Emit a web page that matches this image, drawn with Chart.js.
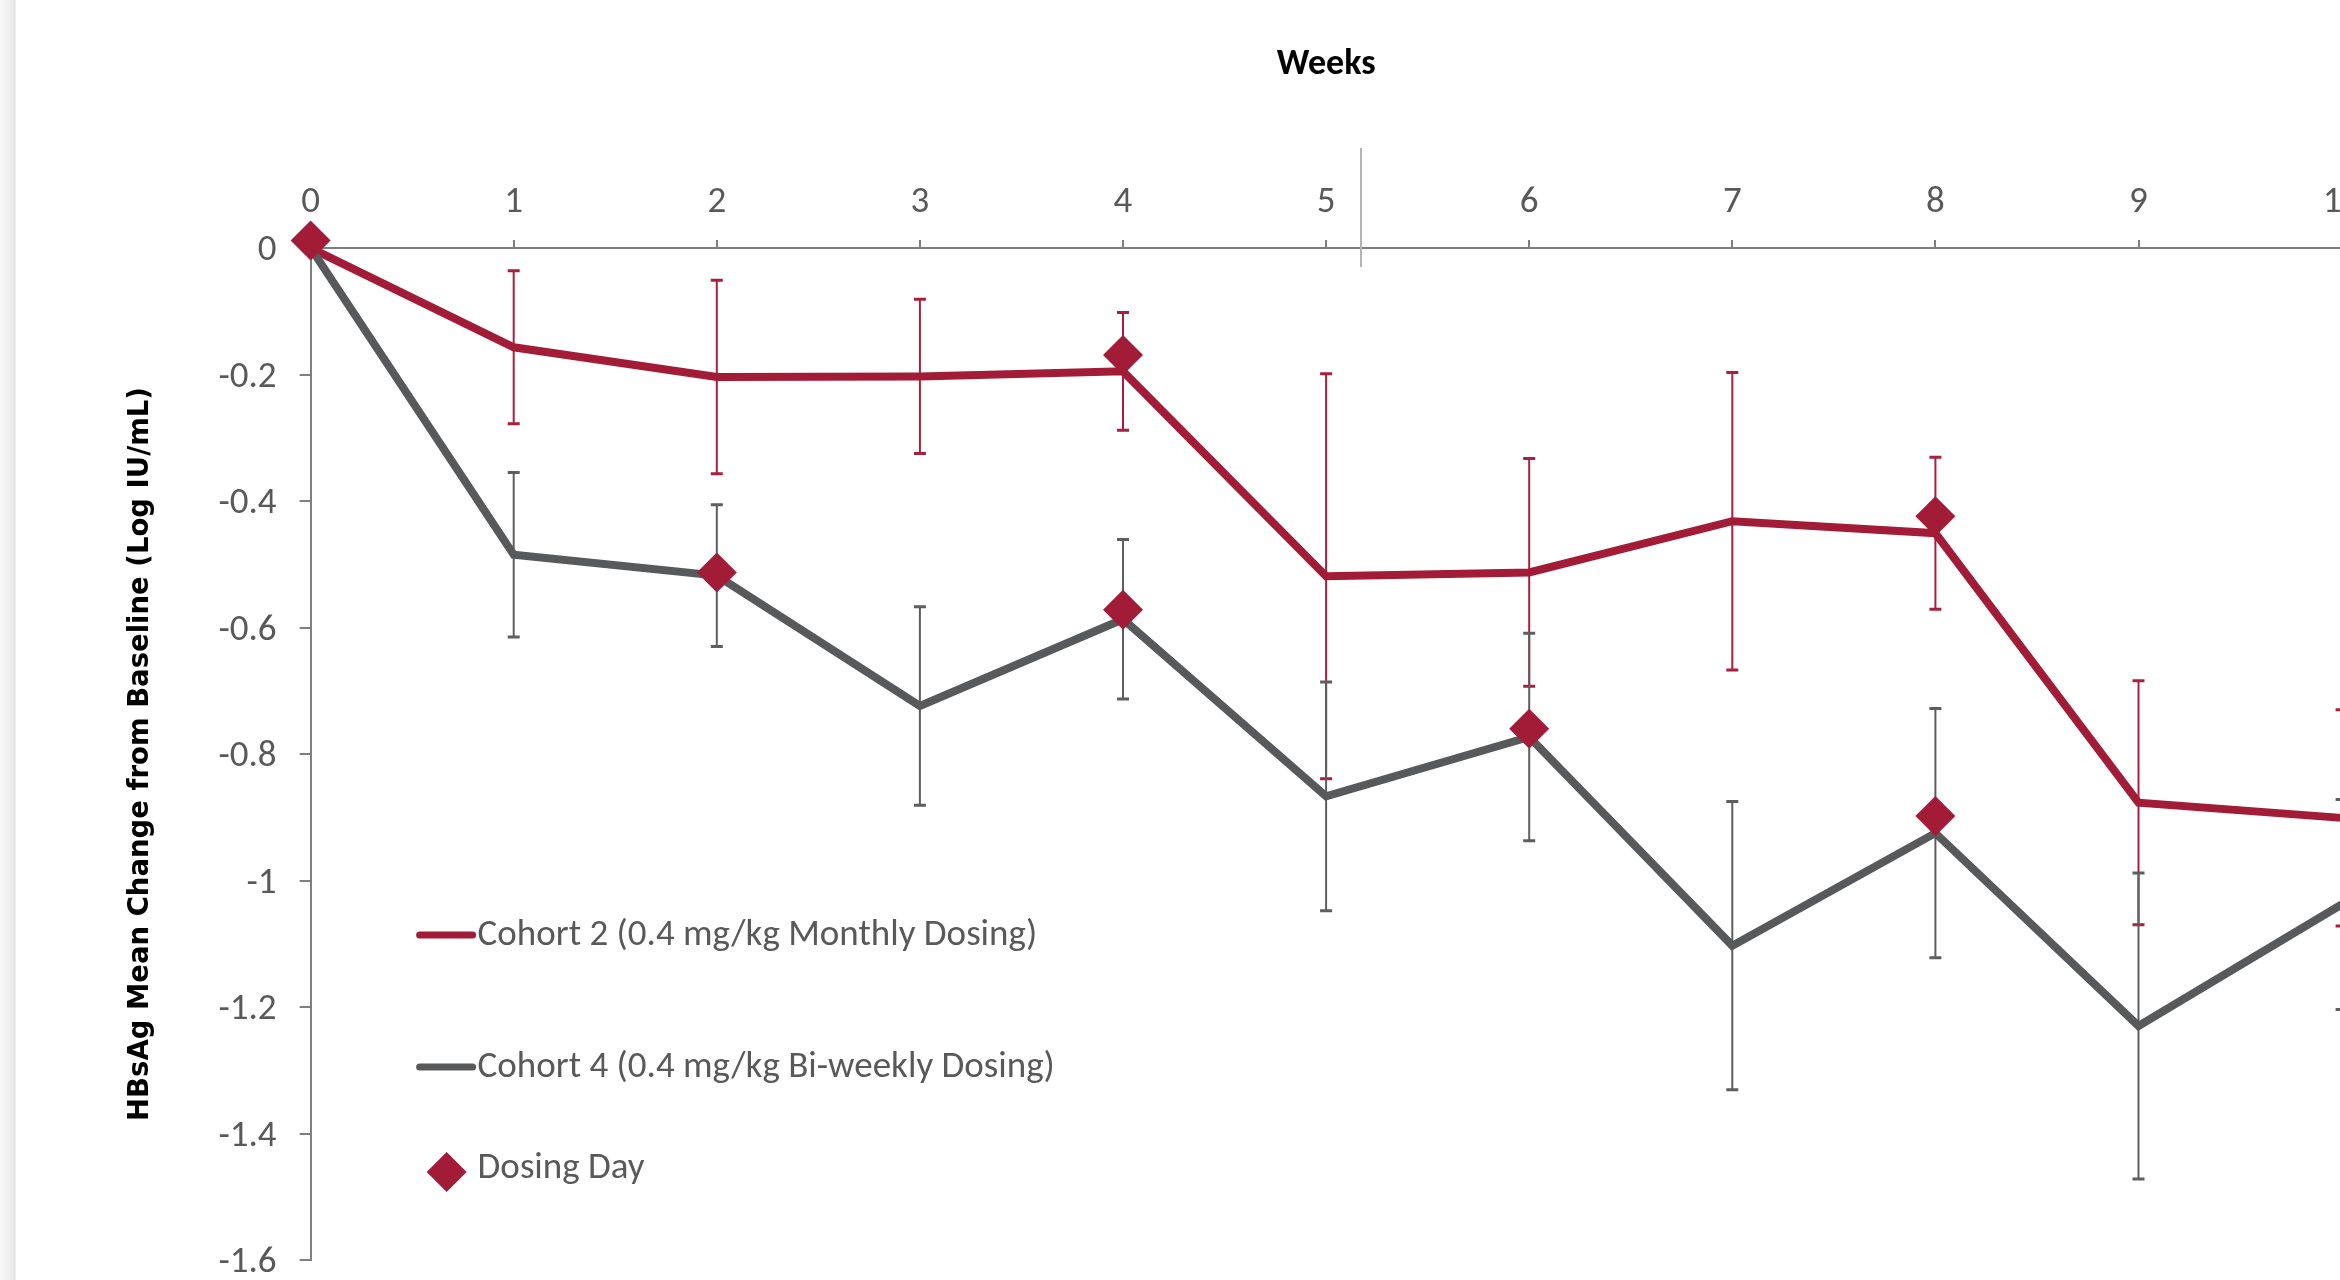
<!DOCTYPE html>
<html>
<head>
<meta charset="utf-8">
<title>HBsAg Mean Change from Baseline</title>
<script src="https://cdn.jsdelivr.net/npm/chart.js@4/dist/chart.umd.min.js"></script>
<style>
  html, body { margin: 0; padding: 0; background: #fff; overflow: hidden; width: 2340px; height: 1280px; }
  #wrap { position: relative; width: 2340px; height: 1280px; overflow: hidden; background: #fff; }
  #edge { position: absolute; left: 0; top: 0; width: 16px; height: 1280px;
          background: linear-gradient(to right, #f9f9f9, #eeeeee 60%, #e3e3e3 95%, #ffffff); }
  #divider { position: absolute; left: 1360px; top: 148px; width: 2px; height: 119px; background: #b3b3b9; }
  canvas { position: absolute; left: 0; top: 0; }
</style>
</head>
<body>
<div id="wrap">
  <canvas id="chart" width="2400" height="1280"></canvas>
  <div id="edge"></div>
  <div id="divider"></div>
</div>
<script>
// Study weeks
const weeks = [0, 1, 2, 3, 4, 5, 6, 7, 8, 9, 10];

// Cohort 2 (0.4 mg/kg monthly): mean change and standard error
const cohort2Mean = [0, -0.157, -0.204, -0.203, -0.195, -0.519, -0.513, -0.432, -0.451, -0.877, -0.901];
const cohort2Err  = [0, 0.121, 0.153, 0.122, 0.093, 0.320, 0.180, 0.235, 0.120, 0.193, 0.171];

// Cohort 4 (0.4 mg/kg bi-weekly): mean change and standard error
const cohort4Mean = [0, -0.485, -0.518, -0.724, -0.587, -0.867, -0.773, -1.103, -0.925, -1.230, -1.038];
const cohort4Err  = [0, 0.130, 0.112, 0.157, 0.126, 0.181, 0.164, 0.228, 0.197, 0.242, 0.166];

// Dosing day markers
const dosingWeeks  = [0, 4, 8, 2, 4, 6, 8];
const dosingValues = [0.012, -0.169, -0.424, -0.513, -0.572, -0.760, -0.898];

const seriesLabels = [
  'Cohort 2 (0.4 mg/kg Monthly Dosing)',
  'Cohort 4 (0.4 mg/kg Bi-weekly Dosing)',
  'Dosing Day'
];

// Axis ticks
const xTickValues = [0, 1, 2, 3, 4, 5, 6, 7, 8, 9, 10];
const xTickLabels = ['0', '1', '2', '3', '4', '5', '6', '7', '8', '9', '10'];
const yTickValues = [0, -0.2, -0.4, -0.6, -0.8, -1, -1.2, -1.4, -1.6];
const yTickLabels = ['0', '-0.2', '-0.4', '-0.6', '-0.8', '-1', '-1.2', '-1.4', '-1.6'];

const RED = '#A31C37';
const GRAY = '#58595B';
const AXIS = '#7F7F7F';
const TEXT = '#595959';
const LABEL_FONT = "Carlito, 'Liberation Sans Narrow', 'Open Sans', sans-serif";
const LABEL_SIZE = 37;

// Vertical error bars (mean ± SE) drawn beneath the lines
const errorBarPlugin = {
  id: 'errorBars',
  beforeDatasetsDraw(chart) {
    const { ctx } = chart;
    const xs = chart.scales.x, ys = chart.scales.y;
    chart.data.datasets.forEach(ds => {
      if (!ds.errorBars) return;
      ctx.save();
      ctx.strokeStyle = ds.errorColor;
      ds.data.forEach((p, i) => {
        const e = ds.errorBars[i];
        if (!e) return;
        const px = xs.getPixelForValue(p.x);
        const top = ys.getPixelForValue(p.y + e);
        const bot = ys.getPixelForValue(p.y - e);
        ctx.lineWidth = 2;
        ctx.beginPath();
        ctx.moveTo(px, top);
        ctx.lineTo(px, bot);
        ctx.stroke();
        ctx.lineWidth = 3;
        ctx.beginPath();
        ctx.moveTo(px - 6, top); ctx.lineTo(px + 6, top);
        ctx.moveTo(px - 6, bot); ctx.lineTo(px + 6, bot);
        ctx.stroke();
      });
      ctx.restore();
    });
  }
};

// Legend stacked inside the plot, lower left
const insideLegendPlugin = {
  id: 'insideLegend',
  afterDraw(chart) {
    const { ctx, chartArea } = chart;
    const left = chartArea.left + 106;
    const rows = [
      { y: 935, ty: 936 },
      { y: 1067, ty: 1068 },
      { y: 1172, ty: 1169 }
    ];
    ctx.save();
    ctx.font = LABEL_SIZE + 'px ' + LABEL_FONT;
    ctx.textBaseline = 'middle';
    ctx.textAlign = 'left';
    chart.data.datasets.forEach((ds, i) => {
      const r = rows[i];
      if (ds.showLine === false) {
        ctx.fillStyle = ds.backgroundColor;
        const cx = left + 30, rad = 20;
        ctx.beginPath();
        ctx.moveTo(cx, r.y - rad);
        ctx.lineTo(cx + rad, r.y);
        ctx.lineTo(cx, r.y + rad);
        ctx.lineTo(cx - rad, r.y);
        ctx.closePath();
        ctx.fill();
      } else {
        ctx.strokeStyle = ds.borderColor;
        ctx.lineWidth = 7;
        ctx.lineCap = 'round';
        ctx.beginPath();
        ctx.moveTo(left + 3, r.y);
        ctx.lineTo(left + 56, r.y);
        ctx.stroke();
      }
      ctx.fillStyle = TEXT;
      ctx.fillText(ds.label, left + 61, r.ty);
    });
    ctx.restore();
  }
};

const toPoints = (xs, ys) => xs.map((w, i) => ({ x: w, y: ys[i] }));

new Chart(document.getElementById('chart').getContext('2d'), {
  type: 'line',
  data: {
    datasets: [
      {
        label: seriesLabels[0],
        data: toPoints(weeks, cohort2Mean),
        borderColor: RED,
        backgroundColor: RED,
        borderWidth: 8,
        pointRadius: 0,
        tension: 0,
        errorBars: cohort2Err,
        errorColor: '#A8203D',
        order: 2
      },
      {
        label: seriesLabels[1],
        data: toPoints(weeks, cohort4Mean),
        borderColor: GRAY,
        backgroundColor: GRAY,
        borderWidth: 8,
        pointRadius: 0,
        tension: 0,
        errorBars: cohort4Err,
        errorColor: '#5E5E5E',
        order: 1
      },
      {
        label: seriesLabels[2],
        data: toPoints(dosingWeeks, dosingValues),
        showLine: false,
        pointStyle: 'rectRot',
        pointRadius: 20,
        pointHoverRadius: 20,
        backgroundColor: RED,
        borderColor: RED,
        pointBorderWidth: 0,
        borderWidth: 0,
        clip: false,
        order: 0
      }
    ]
  },
  options: {
    responsive: false,
    animation: false,
    devicePixelRatio: 1,
    events: [],
    layout: { padding: { left: 0, top: 0, right: 58.4, bottom: 19 } },
    plugins: { legend: { display: false }, tooltip: { enabled: false } },
    scales: {
      x: {
        type: 'linear',
        position: 'top',
        min: 0,
        max: 10,
        afterBuildTicks: s => { s.ticks = xTickValues.map(v => ({ value: v })); },
        ticks: {
          callback: (v, i) => xTickLabels[i],
          color: TEXT,
          font: { family: LABEL_FONT, size: LABEL_SIZE },
          padding: 15,
          maxRotation: 0,
          autoSkip: false
        },
        grid: { drawOnChartArea: false, drawTicks: true, tickLength: 8, color: AXIS, lineWidth: 2 },
        border: { display: true, color: AXIS, width: 2 },
        title: {
          display: true,
          text: 'Weeks',
          color: '#000',
          font: { family: LABEL_FONT, size: 36, weight: 'bold' },
          padding: { top: 43, bottom: 0 }
        },
        afterFit: s => {
          s.height = 248;
          s.paddingLeft = 0;
          s.paddingRight = 0;
        }
      },
      y: {
        type: 'linear',
        position: 'left',
        min: -1.6,
        max: 0,
        afterBuildTicks: s => { s.ticks = yTickValues.map(v => ({ value: v })); },
        ticks: {
          callback: (v, i) => yTickLabels[i],
          color: TEXT,
          font: { family: LABEL_FONT, size: LABEL_SIZE },
          padding: 23,
          labelOffset: 3,
          autoSkip: false
        },
        grid: { drawOnChartArea: false, drawTicks: true, tickLength: 11, color: AXIS, lineWidth: 2 },
        border: { display: true, color: AXIS, width: 2 },
        title: {
          display: true,
          text: 'HBsAg Mean Change from Baseline (Log IU/mL)',
          color: '#000',
          font: { family: "'DejaVu Sans', Verdana, sans-serif", size: 27.5, weight: 'bold' },
          padding: { top: 124, bottom: 0 }
        },
        afterFit: s => {
          s.width = 310.6;
          s.paddingTop = 0;
          s.paddingBottom = 0;
        }
      }
    }
  },
  plugins: [errorBarPlugin, insideLegendPlugin]
});
</script>
</body>
</html>
